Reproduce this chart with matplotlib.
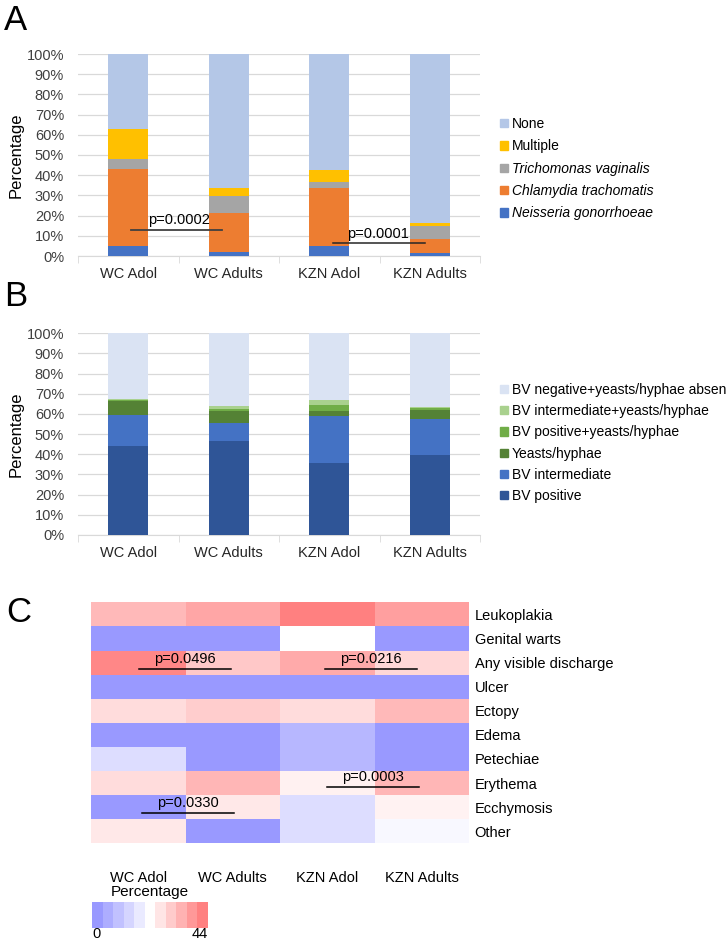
import matplotlib.pyplot as plt
import numpy as np
from matplotlib.patches import Patch
from matplotlib.colors import LinearSegmentedColormap, TwoSlopeNorm

plt.rcParams['font.family'] = ['Liberation Sans', 'DejaVu Sans']

groups = ["WC Adol", "WC Adults", "KZN Adol", "KZN Adults"]

# Panel A: STI prevalence (%), stacked bottom -> top
sti_names = ["Neisseria gonorrhoeae", "Chlamydia trachomatis", "Trichomonas vaginalis", "Multiple", "None"]
sti_ng = [5.0, 2.0, 4.8, 1.6]
sti_ct = [38.0, 19.5, 28.9, 6.7]
sti_tv = [5.0, 8.0, 2.9, 6.6]
sti_multiple = [14.7, 4.3, 6.0, 1.6]
sti_none = [37.3, 66.2, 57.4, 83.5]
sti_colors = ["#4472c4", "#ed7d31", "#a5a5a5", "#ffc000", "#b4c7e7"]
sti_italic = [True, True, True, False, False]

# Panel B: BV / yeasts (%), stacked bottom -> top
bv_names = ["BV positive", "BV intermediate", "Yeasts/hyphae", "BV positive+yeasts/hyphae",
            "BV intermediate+yeasts/hyphae", "BV negative+yeasts/hyphae absen"]
bv_pos = [44.3, 46.6, 35.5, 39.8]
bv_int = [15.2, 8.8, 23.5, 17.6]
bv_yeast = [7.0, 6.1, 2.3, 4.6]
bv_pos_yeast = [0.4, 0.8, 3.2, 0.8]
bv_int_yeast = [0.5, 1.6, 2.3, 0.6]
bv_neg = [32.6, 36.1, 33.2, 36.6]
bv_colors = ["#2f5597", "#4472c4", "#548235", "#70ad47", "#a9d18e", "#dae3f3"]

# Panel C: clinical findings (%)
findings = ["Leukoplakia", "Genital warts", "Any visible discharge", "Ulcer", "Ectopy",
            "Edema", "Petechiae", "Erythema", "Ecchymosis", "Other"]
heat_values = np.array([
    [25.5, 31.7, 44.0, 33.8],
    [0.0, 0.0, 3.0, 0.0],
    [41.6, 20.7, 30.4, 15.9],
    [0.0, 0.0, 0.0, 0.0],
    [14.3, 19.1, 14.3, 25.6],
    [0.0, 0.0, 0.9, 0.0],
    [2.0, 0.0, 0.9, 0.0],
    [14.3, 26.5, 7.8, 26.5],
    [0.0, 10.4, 2.0, 7.2],
    [10.4, 0.0, 2.0, 2.8],
])

W, H = 728, 941
fig = plt.figure(figsize=(W / 100, H / 100), dpi=100)


def fx(px):
    return px / W


def fy(py):
    return 1 - py / H


def bar_panel(ax, series, colors):
    x = np.arange(len(groups))
    bottom = np.zeros(len(groups))
    for vals, col in zip(series, colors):
        ax.bar(x, vals, width=0.4, bottom=bottom, color=col, zorder=3)
        bottom += np.array(vals)
    ax.set_xlim(-0.5, len(groups) - 0.5)
    ax.set_ylim(0, 100)
    ax.set_yticks(np.arange(0, 101, 10))
    ax.set_yticklabels([f"{v}%" for v in range(0, 101, 10)], fontsize=10.5, color="#404040")
    ax.set_xticks(x)
    ax.set_xticklabels(groups, fontsize=10.5, color="#262626")
    ax.set_xticks(np.arange(-0.5, len(groups), 1), minor=True)
    ax.tick_params(axis="x", which="major", length=0, pad=8)
    ax.tick_params(axis="x", which="minor", length=5, color="#d9d9d9")
    ax.tick_params(axis="y", length=0, pad=10)
    ax.grid(axis="y", color="#d9d9d9", lw=0.9, zorder=0)
    for s in ["top", "right", "left"]:
        ax.spines[s].set_visible(False)
    ax.spines["bottom"].set_color("#d9d9d9")
    ax.set_ylabel("Percentage", fontsize=12, labelpad=2)


legend_kw = dict(loc="upper left", bbox_transform=fig.transFigure, frameon=False, fontsize=10,
                 borderpad=0, handlelength=0.55, handleheight=0.55, handletextpad=0.3)

# Panel A
axA = fig.add_axes([fx(78), fy(256), fx(402), 202 / H])
bar_panel(axA, [sti_ng, sti_ct, sti_tv, sti_multiple, sti_none], sti_colors)
axA.plot([0.03, 0.93], [13, 13], color="#404040", lw=1.3, zorder=4)
axA.text(0.5, 14.5, "p=0.0002", ha="center", va="bottom", fontsize=10.5, zorder=5)
axA.plot([2.04, 2.95], [6.3, 6.3], color="#262626", lw=1.1, zorder=4)
axA.text(2.48, 7.6, "p=0.0001", ha="center", va="bottom", fontsize=10.5, zorder=5)

handles = [Patch(color=c) for c in sti_colors][::-1]
legA = axA.legend(handles, sti_names[::-1], bbox_to_anchor=(fx(493), fy(110)),
                  labelspacing=0.6, **legend_kw)
for t, it in zip(legA.get_texts(), sti_italic[::-1]):
    if it:
        t.set_style("italic")

# Panel B
axB = fig.add_axes([fx(78), fy(535), fx(402), 201.7 / H])
bar_panel(axB, [bv_pos, bv_int, bv_yeast, bv_pos_yeast, bv_int_yeast, bv_neg], bv_colors)
handles = [Patch(color=c) for c in bv_colors][::-1]
axB.legend(handles, bv_names[::-1], bbox_to_anchor=(fx(493), fy(376)),
           labelspacing=0.52, **legend_kw)

# Panel C heatmap
cmap = LinearSegmentedColormap.from_list("bwr_soft", ["#9999ff", "#ffffff", "#ff8080"])
norm = TwoSlopeNorm(vmin=0, vcenter=3, vmax=44)
axC = fig.add_axes([fx(91), fy(843.3), fx(378), 241 / H])
axC.pcolormesh(np.arange(5), np.arange(11), heat_values, cmap=cmap, norm=norm)
axC.set_xlim(0, 4)
axC.set_ylim(10, 0)
axC.set_xticks(np.arange(4) + 0.5)
axC.set_xticklabels(groups, fontsize=10.5)
axC.set_yticks(np.arange(10) + 0.5)
axC.set_yticklabels(findings, fontsize=10.5)
axC.yaxis.tick_right()
axC.tick_params(axis="x", length=0, pad=20)
axC.tick_params(axis="y", length=0, pad=4)
for s in axC.spines.values():
    s.set_visible(False)

pvals_c = [("p=0.0496", 0.51, 1.48, 2.77), ("p=0.0216", 2.48, 3.45, 2.77),
           ("p=0.0003", 2.50, 3.47, 7.68), ("p=0.0330", 0.54, 1.51, 8.73)]
for label, x0, x1, yl in pvals_c:
    axC.plot([x0, x1], [yl, yl], color="black", lw=1.1)
    axC.text((x0 + x1) / 2, yl - 0.12, label, ha="center", va="bottom", fontsize=10.5)

# colour key
axK = fig.add_axes([fx(91.7), fy(928.3), fx(116), 26.6 / H])
key = np.linspace(0, 1, 11)
axK.imshow(cmap(key)[None, :, :], aspect="auto", extent=(0, 11, 0, 1))
axK.set_xticks([])
axK.set_yticks([])
for s in axK.spines.values():
    s.set_visible(False)
fig.text(fx(150), fy(892), "Percentage", ha="center", va="center", fontsize=11)
fig.text(fx(92), fy(934), "0", ha="left", va="center", fontsize=10.5)
fig.text(fx(208), fy(934), "44", ha="right", va="center", fontsize=10.5)

# panel letters
fig.text(fx(4), fy(21), "A", ha="left", va="center", fontsize=25)
fig.text(fx(4), fy(297), "B", ha="left", va="center", fontsize=25)
fig.text(fx(6), fy(612), "C", ha="left", va="center", fontsize=25)

fig.savefig("out.png", dpi=100)
